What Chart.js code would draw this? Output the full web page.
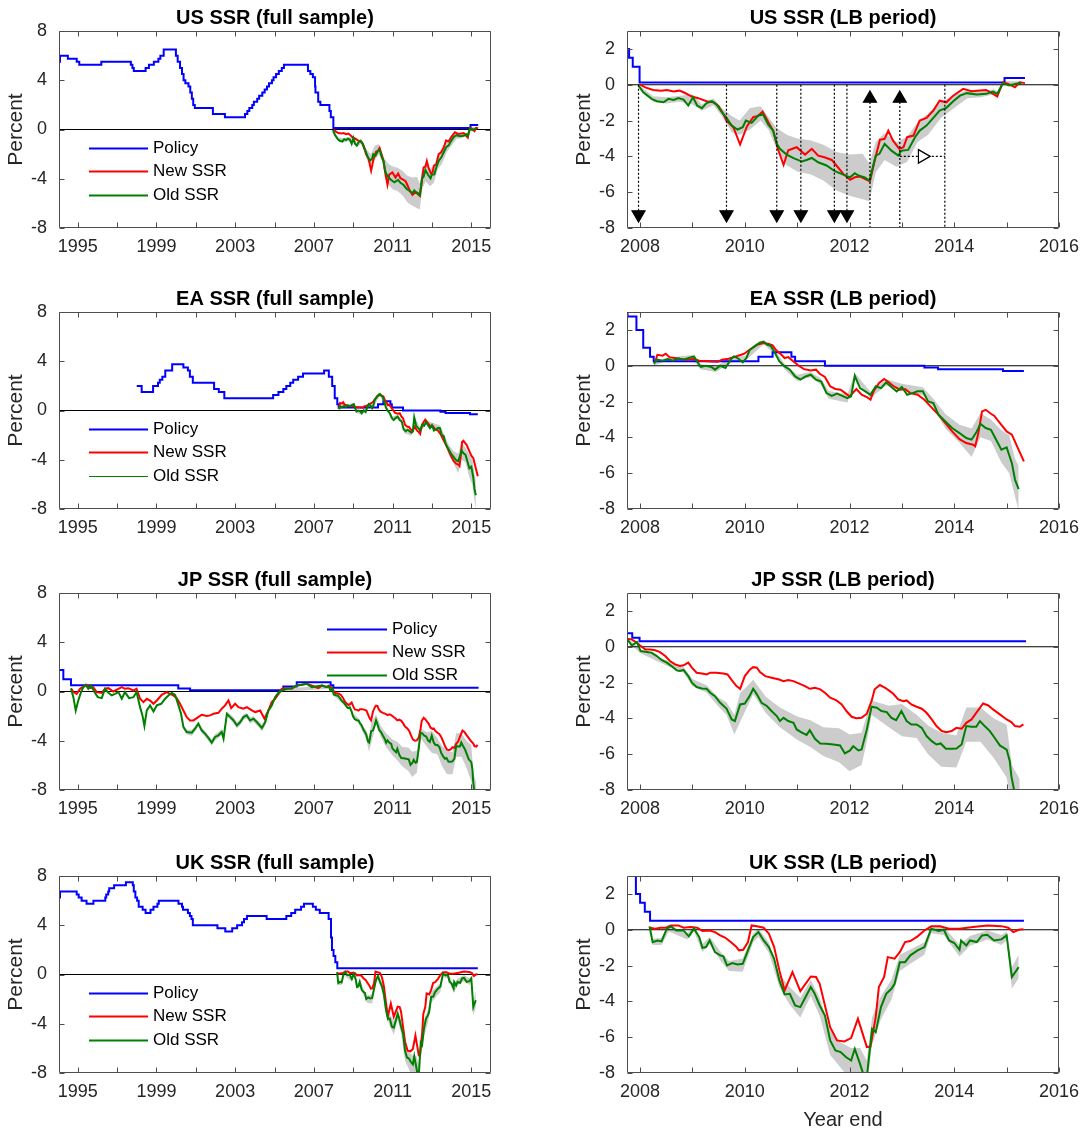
<!DOCTYPE html>
<html>
<head>
<meta charset="utf-8">
<script src="https://cdn.jsdelivr.net/npm/chart.js@4.4.1/dist/chart.umd.min.js"></script>
<style>
  body { margin: 0; background: #fff; width: 1088px; height: 1131px; overflow: hidden; position: relative; }
  canvas { position: absolute; }
</style>
</head>
<body>
<script>
///////////// DATA /////////////

// axis ticks
const fullTicks = [1995, 1997, 1999, 2001, 2003, 2005, 2007, 2009, 2011, 2013, 2015];
const fullLabels = [1995, 1999, 2003, 2007, 2011, 2015];
const lbTicks = [2008, 2009, 2010, 2011, 2012, 2013, 2014, 2015, 2016];
const lbLabels = [2008, 2010, 2012, 2014, 2016];
const fullYTicks = [-8, -4, 0, 4, 8];
const lbYTicks = [-8, -6, -4, -2, 0, 2];

// policy rates (step changes: date, rate)
const usPolicyX = [1994.05, 1994.1, 1994.5, 1994.95, 1995.08, 1996.2, 1997.7, 1997.78, 1997.85, 1998.45,
  1998.62, 1998.87, 1999.1, 1999.2, 1999.37, 1999.99, 2000.08, 2000.2, 2000.3, 2000.38,
  2000.47, 2000.63, 2000.72, 2000.8, 2000.87, 2000.95, 2001.87, 2002.48, 2003.5, 2003.62,
  2003.72, 2003.87, 2003.95, 2004.12, 2004.22, 2004.38, 2004.5, 2004.62, 2004.72, 2004.87,
  2004.95, 2005.08, 2005.22, 2005.37, 2005.48, 2006.7, 2006.82, 2006.95, 2007.06, 2007.08,
  2007.22, 2007.33, 2007.79, 2007.86, 2007.99, 2014.96, 2015.35];
const usPolicyY = [5.5, 6.0, 5.75, 5.5, 5.25, 5.5, 5.25, 5.0, 4.75, 5.0,
  5.25, 5.5, 5.75, 6.0, 6.5, 6.0, 5.5, 5.0, 4.5, 4.0,
  3.75, 3.5, 3.0, 2.5, 2.0, 1.75, 1.25, 1.0, 1.25, 1.5,
  1.75, 2.0, 2.25, 2.5, 2.75, 3.0, 3.25, 3.5, 3.75, 4.0,
  4.25, 4.5, 4.75, 5.0, 5.25, 4.75, 4.5, 4.25, 3.5, 3.0,
  2.25, 2.0, 1.5, 1.0, 0.125, 0.375, 0.375];

const eaPolicyX = [1998.0, 1998.25, 1998.83, 1999.08, 1999.17, 1999.3, 1999.45, 1999.8, 2000.37, 2000.6,
  2000.7, 2000.85, 2001.93, 2002.17, 2002.45, 2004.93, 2005.2, 2005.45, 2005.6, 2005.8,
  2005.95, 2006.2, 2006.45, 2007.52, 2007.76, 2007.93, 2008.06, 2008.19, 2008.26, 2010.26,
  2010.53, 2010.89, 2010.96, 2011.53, 2013.43, 2013.69, 2014.93, 2015.33];
const eaPolicyY = [2.0, 1.5, 2.0, 2.25, 2.5, 2.75, 3.25, 3.75, 3.5, 3.25,
  2.75, 2.25, 1.75, 1.5, 1.0, 1.25, 1.5, 1.75, 2.0, 2.25,
  2.5, 2.75, 3.0, 3.25, 2.75, 2.0, 1.0, 0.5, 0.25, 0.5,
  0.75, 0.5, 0.25, 0.0, -0.1, -0.2, -0.3, -0.3];

const jpPolicyX = [1994.05, 1994.27, 1994.66, 2000.11, 2000.71, 2005.45, 2006.13, 2007.85, 2007.99, 2015.37];
const jpPolicyY = [1.75, 1.0, 0.5, 0.25, 0.1, 0.4, 0.75, 0.5, 0.3, 0.3];

const ukPolicyX = [1994.05, 1994.1, 1994.95, 1995.05, 1995.2, 1995.45, 1995.8, 1996.4, 1996.45, 1996.55,
  1996.6, 1996.85, 1997.45, 1997.8, 1997.85, 1997.93, 1998.02, 1998.1, 1998.3, 1998.45,
  1998.7, 1998.85, 1999.05, 1999.12, 2000.12, 2000.3, 2000.35, 2000.6, 2000.7, 2000.78,
  2000.85, 2002.1, 2002.5, 2002.85, 2003.1, 2003.35, 2003.45, 2003.6, 2004.6, 2005.6,
  2005.85, 2006.05, 2006.35, 2006.5, 2006.95, 2007.1, 2007.3, 2007.75, 2007.87, 2007.92,
  2008.0, 2008.09, 2008.19, 2015.33];
const ukPolicyY = [6.25, 6.75, 6.5, 6.25, 6.0, 5.75, 6.0, 6.25, 6.5, 6.75,
  7.0, 7.25, 7.5, 7.25, 6.75, 6.25, 6.0, 5.5, 5.25, 5.0,
  5.25, 5.5, 5.75, 6.0, 5.75, 5.5, 5.25, 5.0, 4.75, 4.5,
  4.0, 3.75, 3.5, 3.75, 4.0, 4.25, 4.5, 4.75, 4.5, 4.75,
  5.0, 5.25, 5.5, 5.75, 5.5, 5.25, 5.0, 4.5, 3.0, 2.0,
  1.5, 1.0, 0.5, 0.5];

// shadow short rates [date, percent]
const usNew = [[2008.00,0.0],[2008.10,-0.15],[2008.25,-0.29],[2008.40,-0.33],[2008.51,-0.29],[2008.64,-0.38],[2008.75,-0.33],[2008.83,-0.42],[2008.99,-0.66],[2009.11,-0.75],
  [2009.27,-0.92],[2009.40,-0.98],[2009.50,-1.2],[2009.59,-1.63],[2009.65,-2.0],[2009.78,-2.37],[2009.91,-3.34],[2010.04,-2.33],[2010.16,-1.81],[2010.25,-1.75],
  [2010.34,-1.5],[2010.45,-2.1],[2010.54,-2.56],[2010.64,-3.66],[2010.74,-4.48],[2010.83,-3.66],[2010.99,-3.49],[2011.15,-3.9],[2011.28,-3.58],[2011.40,-3.96],
  [2011.52,-4.05],[2011.66,-4.2],[2011.75,-4.51],[2011.88,-4.98],[2012.01,-5.31],[2012.10,-5.17],[2012.20,-5.13],[2012.29,-5.26],[2012.39,-5.39],[2012.48,-4.23],
  [2012.58,-3.08],[2012.67,-3.02],[2012.74,-2.56],[2012.83,-3.12],[2012.95,-3.58],[2013.03,-3.49],[2013.10,-2.93],[2013.22,-2.84],[2013.34,-2.0],[2013.47,-1.85],
  [2013.60,-1.44],[2013.72,-0.89],[2013.85,-0.98],[2013.98,-0.61],[2014.17,-0.23],[2014.33,-0.36],[2014.49,-0.32],[2014.61,-0.29],[2014.74,-0.51],[2014.82,-0.66],
  [2014.93,0.14],[2015.03,0.05],[2015.16,-0.14],[2015.25,0.14],[2015.35,0.09]];
const usOld = [[2007.97,-0.05],[2008.06,-0.42],[2008.22,-0.79],[2008.32,-0.92],[2008.45,-0.98],[2008.54,-0.79],[2008.64,-0.85],[2008.73,-0.75],[2008.83,-0.83],[2008.92,-1.16],
  [2009.01,-0.70],[2009.09,-1.16],[2009.18,-1.31],[2009.27,-1.03],[2009.37,-0.92],[2009.46,-1.10],[2009.56,-1.53],[2009.65,-1.85],[2009.75,-2.28],[2009.86,-2.50],
  [2009.96,-2.37],[2010.02,-2.00],[2010.13,-2.13],[2010.26,-1.72],[2010.35,-1.66],[2010.45,-2.24],[2010.54,-2.56],[2010.61,-3.30],[2010.67,-3.58],[2010.80,-3.90],
  [2010.93,-4.10],[2011.09,-4.29],[2011.18,-4.20],[2011.28,-4.09],[2011.40,-4.33],[2011.56,-4.51],[2011.72,-4.83],[2011.88,-5.02],[2012.01,-5.17],[2012.10,-4.94],
  [2012.17,-5.07],[2012.29,-5.17],[2012.38,-5.35],[2012.50,-3.96],[2012.57,-3.86],[2012.67,-3.30],[2012.80,-3.68],[2012.93,-3.96],[2012.99,-3.68],[2013.12,-3.64],
  [2013.25,-2.93],[2013.34,-2.56],[2013.47,-2.28],[2013.60,-1.85],[2013.72,-1.44],[2013.85,-1.29],[2013.98,-0.92],[2014.11,-0.61],[2014.24,-0.47],[2014.43,-0.55],
  [2014.61,-0.51],[2014.74,-0.38],[2014.82,-0.51],[2014.93,0.09],[2015.05,-0.04],[2015.18,0.05],[2015.28,0.09]];
// confidence band [date, low, high]
const usBand = [[2007.97,-0.1,0.0],[2008.25,-0.95,-0.65],[2008.5,-1.05,-0.7],[2008.75,-0.95,-0.62],[2009.0,-1.1,-0.55],[2009.18,-1.45,-1.1],[2009.4,-1.15,-0.75],[2009.56,-1.75,-1.3],
  [2009.75,-2.65,-1.75],[2009.9,-2.8,-2.0],[2010.1,-2.5,-1.3],[2010.3,-2.0,-1.2],[2010.45,-2.5,-1.8],[2010.6,-3.5,-2.4],[2010.8,-4.5,-2.8],[2011.0,-4.85,-3.0],
  [2011.25,-5.0,-3.1],[2011.5,-5.35,-3.35],[2011.75,-5.9,-3.75],[2012.0,-6.2,-3.9],[2012.25,-6.4,-3.85],[2012.38,-6.5,-4.4],[2012.5,-4.9,-3.2],[2012.67,-4.2,-2.7],
  [2012.9,-4.6,-3.2],[2013.1,-4.3,-2.9],[2013.3,-3.2,-2.1],[2013.5,-2.8,-1.6],[2013.75,-1.85,-0.95],[2014.0,-1.3,-0.6],[2014.25,-0.75,-0.3],[2014.5,-0.7,-0.38],
  [2014.75,-0.55,-0.25],[2014.82,-0.65,-0.35],[2014.93,-0.05,0.2],[2015.28,0.0,0.2]];

const eaNew = [[2008.29,0.24],[2008.33,0.61],[2008.43,0.56],[2008.49,0.67],[2008.56,0.48],[2008.66,0.43],[2008.76,0.37],[2008.89,0.34],[2009.03,0.37],[2009.13,0.28],
  [2009.23,0.26],[2009.36,0.24],[2009.49,0.22],[2009.56,0.34],[2009.69,0.39],[2009.83,0.52],[2009.93,0.61],[2009.99,0.67],[2010.09,0.89],[2010.23,1.17],
  [2010.36,1.27],[2010.46,1.21],[2010.53,1.14],[2010.60,0.86],[2010.70,0.61],[2010.76,0.43],[2010.83,0.48],[2010.93,0.24],[2011.03,0.00],[2011.13,-0.19],
  [2011.26,-0.26],[2011.36,-0.22],[2011.43,-0.45],[2011.53,-0.63],[2011.63,-1.15],[2011.73,-1.30],[2011.83,-1.34],[2011.93,-1.56],[2012.00,-1.71],[2012.06,-1.53],
  [2012.13,-1.30],[2012.23,-1.62],[2012.33,-1.75],[2012.40,-1.90],[2012.46,-1.43],[2012.56,-0.97],[2012.66,-0.74],[2012.73,-0.88],[2012.83,-1.12],[2012.96,-1.34],
  [2013.06,-1.30],[2013.16,-1.53],[2013.30,-1.62],[2013.43,-1.90],[2013.56,-2.31],[2013.70,-2.74],[2013.83,-3.20],[2013.96,-3.67],[2014.10,-4.10],[2014.23,-4.32],
  [2014.36,-4.41],[2014.40,-4.50],[2014.46,-3.76],[2014.53,-2.55],[2014.60,-2.46],[2014.70,-2.68],[2014.76,-2.79],[2014.90,-3.30],[2015.00,-3.67],[2015.10,-3.85],
  [2015.20,-4.50],[2015.33,-5.34]];
const eaOld = [[2008.26,0.11],[2008.33,0.34],[2008.43,0.28],[2008.53,0.37],[2008.63,0.28],[2008.73,0.41],[2008.83,0.34],[2008.93,0.43],[2009.03,0.52],[2009.09,0.24],
  [2009.16,-0.07],[2009.26,0.00],[2009.36,-0.07],[2009.43,-0.22],[2009.53,0.00],[2009.63,-0.13],[2009.73,0.34],[2009.79,0.52],[2009.86,0.43],[2009.96,0.19],
  [2010.03,0.43],[2010.09,0.86],[2010.19,1.08],[2010.29,1.30],[2010.36,1.34],[2010.43,1.17],[2010.49,1.12],[2010.56,0.80],[2010.66,0.24],[2010.76,-0.04],
  [2010.86,-0.22],[2010.96,-0.60],[2011.06,-0.78],[2011.16,-0.60],[2011.26,-0.50],[2011.36,-0.78],[2011.46,-0.88],[2011.56,-1.53],[2011.66,-1.68],[2011.76,-1.56],
  [2011.86,-1.68],[2011.96,-1.81],[2012.03,-1.71],[2012.10,-0.56],[2012.20,-1.25],[2012.30,-1.43],[2012.40,-1.62],[2012.50,-1.15],[2012.60,-1.25],[2012.70,-0.93],
  [2012.80,-1.19],[2012.90,-1.43],[2013.00,-1.19],[2013.10,-1.62],[2013.20,-1.53],[2013.30,-1.43],[2013.40,-1.43],[2013.50,-1.99],[2013.60,-2.09],[2013.70,-2.74],
  [2013.83,-3.11],[2013.96,-3.48],[2014.10,-3.76],[2014.23,-4.04],[2014.33,-4.13],[2014.43,-3.67],[2014.50,-3.24],[2014.60,-3.48],[2014.70,-3.58],[2014.80,-4.13],
  [2014.90,-4.69],[2015.00,-4.56],[2015.10,-5.44],[2015.16,-6.37],[2015.23,-6.89]];
const eaBand = [[2008.26,0.0,0.2],[2008.5,0.25,0.45],[2009.0,0.35,0.6],[2009.15,-0.2,0.1],[2009.45,-0.35,-0.05],[2009.75,0.2,0.5],[2010.0,0.25,0.55],[2010.36,1.2,1.45],
  [2010.56,0.65,0.95],[2010.76,-0.2,0.1],[2011.0,-0.85,-0.5],[2011.25,-0.65,-0.35],[2011.45,-1.05,-0.7],[2011.6,-1.85,-1.4],[2011.96,-2.05,-1.6],[2012.1,-0.75,-0.4],
  [2012.4,-1.8,-1.45],[2012.7,-1.1,-0.75],[2013.0,-1.4,-1.0],[2013.4,-1.65,-1.2],[2013.6,-2.3,-1.85],[2013.83,-3.5,-2.7],[2014.1,-4.3,-3.3],[2014.33,-5.1,-3.5],
  [2014.5,-4.0,-2.65],[2014.7,-4.2,-3.0],[2014.9,-5.4,-3.6],[2015.05,-6.0,-3.9],[2015.16,-7.3,-5.2],[2015.23,-8.1,-5.6]];

const jpNew = [[1994.66,0.27],[1994.78,-0.05],[1994.95,-0.19],[1995.12,0.22],[1995.29,0.40],[1995.46,0.54],[1995.63,0.27],[1995.79,0.35],[1995.96,-0.05],[1996.22,-0.11],
  [1996.39,0.22],[1996.56,0.27],[1996.81,0.00],[1997.07,0.22],[1997.24,0.35],[1997.40,0.22],[1997.57,0.27],[1997.83,0.08],[1997.99,0.22],[1998.17,-0.59],
  [1998.34,-0.86],[1998.51,-0.59],[1998.68,-0.73],[1998.85,-1.00],[1999.02,-0.73],[1999.27,-0.27],[1999.52,-0.05],[1999.69,-0.19],[1999.86,-0.32],[2000.03,-0.54],
  [2000.20,-1.00],[2000.37,-1.54],[2000.54,-2.08],[2000.71,-2.35],[2000.88,-2.35],[2001.05,-2.16],[2001.30,-1.89],[2001.56,-1.99],[2001.73,-1.94],[2001.90,-1.81],
  [2002.15,-1.73],[2002.32,-1.40],[2002.49,-1.13],[2002.66,-0.73],[2002.80,-1.35],[2003.00,-1.00],[2003.17,-1.27],[2003.42,-1.40],[2003.59,-1.27],[2003.85,-1.54],
  [2004.02,-1.67],[2004.27,-1.54],[2004.49,-2.21],[2004.69,-1.54],[2004.86,-0.86],[2005.03,-0.59],[2005.20,-0.19],[2005.37,0.22],[2005.63,0.27],[2005.88,0.22],
  [2006.13,0.49],[2006.38,0.54],[2006.64,0.62],[2006.98,0.43],[2007.23,0.27],[2007.41,0.49],[2007.66,0.35],
  [2007.75,0.45],[2007.84,0.41],[2007.94,0.22],[2008.00,0.07],[2008.10,-0.15],[2008.19,-0.15],[2008.29,-0.20],[2008.38,-0.30],[2008.48,-0.52],[2008.57,-0.80],
  [2008.67,-0.99],[2008.76,-1.08],[2008.83,-1.04],[2008.92,-0.89],[2008.99,-1.17],[2009.08,-1.45],[2009.18,-1.49],[2009.27,-1.55],[2009.34,-1.45],[2009.46,-1.45],
  [2009.59,-1.49],[2009.67,-1.55],[2009.75,-1.86],[2009.84,-2.20],[2009.91,-2.35],[2010.00,-1.64],[2010.10,-1.27],[2010.16,-1.14],[2010.23,-1.17],[2010.29,-1.42],
  [2010.39,-1.64],[2010.51,-1.73],[2010.64,-1.82],[2010.74,-1.92],[2010.83,-1.86],[2010.93,-1.92],[2011.05,-2.07],[2011.15,-2.20],[2011.24,-2.35],[2011.34,-2.29],
  [2011.44,-2.38],[2011.53,-2.57],[2011.63,-2.85],[2011.75,-3.00],[2011.85,-3.22],[2011.94,-3.59],[2012.04,-3.91],[2012.13,-3.99],[2012.23,-3.97],[2012.33,-3.74],
  [2012.42,-3.04],[2012.48,-2.38],[2012.58,-2.14],[2012.68,-2.29],[2012.77,-2.48],[2012.83,-2.61],[2012.93,-2.94],[2013.03,-3.04],[2013.09,-3.00],[2013.18,-3.22],
  [2013.28,-3.35],[2013.38,-3.46],[2013.47,-3.69],[2013.57,-4.06],[2013.66,-4.43],[2013.76,-4.71],[2013.85,-4.77],[2013.95,-4.71],[2014.04,-4.53],[2014.14,-4.58],
  [2014.23,-4.25],[2014.33,-4.06],[2014.42,-3.69],[2014.55,-3.17],[2014.65,-3.28],[2014.74,-3.50],[2014.87,-3.78],[2015.00,-4.06],[2015.09,-4.21],[2015.16,-4.43],
  [2015.25,-4.47],[2015.32,-4.34]];
const jpOld = [[1994.66,0.22],[1994.78,-0.46],[1994.90,-1.54],[1995.03,-0.73],[1995.17,-0.05],[1995.29,0.35],[1995.41,0.54],[1995.54,0.22],[1995.68,0.49],[1995.85,-0.05],
  [1996.02,-0.46],[1996.22,-0.54],[1996.39,0.22],[1996.56,-0.11],[1996.73,-0.32],[1996.90,-0.19],[1997.07,-0.05],[1997.24,-0.59],[1997.40,-0.05],[1997.61,-0.54],
  [1997.83,-0.46],[1997.99,-0.05],[1998.17,-1.27],[1998.29,-1.94],[1998.39,-2.80],[1998.51,-1.54],[1998.68,-1.13],[1998.85,-1.62],[1999.02,-1.13],[1999.24,-1.00],
  [1999.44,-0.59],[1999.61,-0.32],[1999.78,-0.11],[1999.95,-0.27],[2000.12,-1.13],[2000.25,-1.81],[2000.37,-2.88],[2000.54,-3.29],[2000.80,-3.34],[2000.96,-3.02],
  [2001.13,-2.61],[2001.30,-3.15],[2001.47,-3.42],[2001.64,-3.77],[2001.81,-4.15],[2001.98,-3.69],[2002.15,-3.56],[2002.32,-3.29],[2002.41,-3.83],[2002.58,-1.81],
  [2002.75,-2.08],[2002.92,-2.35],[2003.09,-2.75],[2003.26,-2.48],[2003.42,-2.08],[2003.59,-1.94],[2003.76,-2.35],[2003.93,-2.21],[2004.10,-2.48],[2004.36,-2.96],
  [2004.53,-2.48],[2004.69,-1.54],[2004.86,-1.13],[2005.03,-0.46],[2005.20,-0.11],[2005.37,0.08],[2005.63,0.22],[2005.88,0.27],[2006.13,0.49],[2006.38,0.54],
  [2006.64,0.62],[2006.90,0.35],[2007.15,0.43],[2007.41,0.49],[2007.66,0.35],
  [2007.75,0.45],[2007.84,0.07],[2007.94,0.26],[2008.01,-0.24],[2008.13,-0.30],[2008.22,-0.34],[2008.32,-0.52],[2008.41,-0.74],[2008.51,-0.89],[2008.60,-1.08],
  [2008.70,-1.32],[2008.76,-1.36],[2008.83,-1.30],[2008.92,-1.64],[2008.99,-2.01],[2009.08,-2.25],[2009.18,-2.33],[2009.27,-2.35],[2009.34,-2.57],[2009.43,-2.76],
  [2009.53,-3.13],[2009.65,-3.45],[2009.75,-4.06],[2009.81,-4.15],[2009.91,-3.22],[2010.00,-3.17],[2010.09,-2.76],[2010.16,-2.35],[2010.23,-2.66],[2010.32,-3.13],
  [2010.42,-3.31],[2010.51,-3.59],[2010.61,-3.87],[2010.67,-4.15],[2010.74,-3.97],[2010.83,-4.15],[2010.93,-4.25],[2010.99,-4.62],[2011.09,-4.80],[2011.18,-4.93],
  [2011.24,-4.66],[2011.34,-5.14],[2011.44,-5.40],[2011.56,-5.42],[2011.69,-5.46],[2011.82,-5.51],[2011.91,-5.96],[2012.01,-5.79],[2012.07,-5.55],[2012.17,-5.79],
  [2012.23,-5.74],[2012.33,-4.62],[2012.42,-3.35],[2012.52,-3.41],[2012.61,-3.59],[2012.71,-3.65],[2012.80,-3.97],[2012.89,-4.10],[2012.99,-3.59],[2013.09,-4.15],
  [2013.18,-4.34],[2013.28,-4.34],[2013.38,-4.53],[2013.47,-4.99],[2013.57,-5.27],[2013.66,-5.46],[2013.74,-5.40],[2013.84,-5.70],[2013.95,-5.70],[2014.04,-5.68],
  [2014.14,-5.46],[2014.23,-4.43],[2014.33,-4.47],[2014.42,-4.47],[2014.49,-4.15],[2014.58,-4.43],[2014.68,-4.71],[2014.77,-5.08],[2014.87,-5.51],[2015.00,-5.74],
  [2015.06,-6.39],[2015.09,-7.23],[2015.14,-7.97],[2015.20,-10.0]];
const jpBand = [[2000.25,-2.0,-1.6],[2000.37,-3.1,-2.7],[2000.54,-3.5,-3.1],[2000.80,-3.6,-3.1],[2000.96,-3.25,-2.8],[2001.13,-2.85,-2.4],[2001.30,-3.4,-2.95],
  [2001.47,-3.65,-3.2],[2001.64,-4.0,-3.55],[2001.81,-4.4,-3.9],[2001.98,-3.95,-3.45],[2002.15,-3.8,-3.3],[2002.32,-3.55,-3.05],[2002.41,-4.1,-3.6],[2002.58,-2.05,-1.6],
  [2002.75,-2.3,-1.85],[2002.92,-2.6,-2.1],[2003.09,-3.0,-2.5],[2003.26,-2.75,-2.25],[2003.42,-2.3,-1.85],[2003.59,-2.2,-1.75],[2003.76,-2.6,-2.1],[2003.93,-2.45,-2.0],
  [2004.10,-2.75,-2.25],[2004.36,-3.25,-2.7],[2004.53,-2.75,-2.25],[2004.69,-1.75,-1.35],[2004.86,-1.35,-0.95],[2005.03,-0.65,-0.3],[2005.37,-0.05,0.2],[2007.66,0.2,0.5],
  [2007.75,0.3,0.55],[2008.0,-0.35,-0.15],[2008.5,-1.05,-0.75],[2008.83,-1.45,-1.15],[2009.0,-2.2,-1.8],[2009.27,-2.55,-2.15],[2009.5,-3.35,-2.85],[2009.65,-3.8,-3.1],
  [2009.8,-4.9,-3.8],[2009.91,-4.2,-2.6],[2010.16,-2.65,-1.85],[2010.4,-3.7,-2.8],[2010.67,-4.5,-3.4],[2011.0,-5.2,-3.9],[2011.25,-5.6,-4.1],[2011.5,-6.1,-4.5],
  [2011.8,-6.45,-4.55],[2012.0,-6.95,-4.9],[2012.23,-6.6,-4.8],[2012.33,-5.3,-3.8],[2012.42,-3.8,-3.0],[2012.75,-4.5,-3.3],[2013.0,-5.0,-3.2],[2013.28,-5.1,-3.8],
  [2013.5,-6.0,-4.4],[2013.75,-6.7,-4.8],[2014.04,-6.75,-4.95],[2014.23,-5.3,-3.4],[2014.5,-5.3,-3.4],[2014.75,-6.2,-4.0],[2015.0,-7.3,-4.35],[2015.1,-9.0,-6.6],
  [2015.25,-9.0,-7.4]];

const ukNew = [[2008.19,0.11],[2008.29,0.06],[2008.39,0.11],[2008.49,0.11],[2008.59,0.24],[2008.73,0.24],[2008.83,0.11],[2008.96,0.15],[2009.09,0.11],[2009.19,-0.07],
  [2009.33,-0.04],[2009.43,-0.13],[2009.53,-0.32],[2009.63,-0.45],[2009.73,-0.69],[2009.83,-0.93],[2009.89,-1.15],[2009.97,-1.12],[2010.06,-0.69],[2010.13,0.24],
  [2010.23,0.19],[2010.36,0.11],[2010.46,-0.22],[2010.56,-0.97],[2010.66,-2.27],[2010.76,-3.39],[2010.91,-2.36],[2011.06,-3.43],[2011.26,-2.61],[2011.36,-2.64],
  [2011.43,-3.02],[2011.53,-4.23],[2011.63,-5.44],[2011.76,-6.18],[2011.90,-6.24],[2012.03,-6.05],[2012.16,-4.97],[2012.23,-5.62],[2012.33,-6.55],[2012.40,-6.52],
  [2012.50,-4.88],[2012.56,-3.20],[2012.66,-2.64],[2012.73,-1.53],[2012.86,-1.62],[2012.96,-1.25],[2013.06,-0.69],[2013.16,-0.63],[2013.30,-0.37],[2013.43,-0.04],
  [2013.56,0.19],[2013.73,0.19],[2013.90,0.06],[2014.10,0.06],[2014.36,0.15],[2014.63,0.24],[2014.90,0.20],[2015.03,0.11],[2015.13,-0.13],[2015.23,0.00],
  [2015.32,0.02]];
const ukOld = [[2008.18,0.19],[2008.24,-0.69],[2008.33,-0.60],[2008.41,-0.65],[2008.51,0.06],[2008.59,0.19],[2008.69,-0.04],[2008.83,-0.04],[2008.93,-0.37],[2009.03,0.06],
  [2009.13,-0.41],[2009.19,-1.01],[2009.26,-0.97],[2009.33,-0.60],[2009.43,-1.25],[2009.53,-1.43],[2009.59,-1.49],[2009.66,-1.99],[2009.76,-1.86],[2009.86,-1.94],
  [2009.96,-1.90],[2010.06,-1.15],[2010.16,-0.41],[2010.26,-0.13],[2010.36,-0.60],[2010.46,-0.97],[2010.56,-1.62],[2010.66,-2.83],[2010.76,-3.61],[2010.86,-3.58],
  [2010.96,-4.23],[2011.06,-4.32],[2011.16,-3.76],[2011.26,-3.20],[2011.33,-3.54],[2011.43,-4.23],[2011.53,-4.79],[2011.63,-6.18],[2011.73,-6.74],[2011.83,-6.83],
  [2011.93,-7.11],[2012.03,-7.30],[2012.10,-6.65],[2012.20,-7.49],[2012.26,-8.04],[2012.33,-8.23],[2012.43,-5.53],[2012.50,-5.72],[2012.60,-4.32],[2012.70,-3.58],
  [2012.80,-3.30],[2012.86,-3.02],[2012.96,-1.81],[2013.06,-1.81],[2013.16,-1.43],[2013.30,-1.15],[2013.43,-0.97],[2013.56,0.06],[2013.70,-0.07],[2013.80,0.00],
  [2013.90,-0.60],[2014.00,-0.74],[2014.10,-1.12],[2014.13,-0.60],[2014.23,-0.88],[2014.30,-0.60],[2014.43,-0.69],[2014.53,-0.32],[2014.63,-0.28],[2014.76,-0.60],
  [2014.90,-0.54],[2015.00,-0.32],[2015.10,-2.64],[2015.23,-2.09]];
const ukBand = [[2008.18,0.05,0.3],[2008.24,-0.85,-0.5],[2008.41,-0.85,-0.45],[2008.55,-0.1,0.25],[2008.9,-0.55,-0.2],[2009.03,-0.1,0.2],[2009.19,-1.25,-0.8],
  [2009.33,-0.8,-0.4],[2009.53,-1.7,-1.2],[2009.7,-2.3,-1.75],[2009.96,-2.35,-1.6],[2010.16,-0.7,-0.2],[2010.26,-0.4,0.05],[2010.46,-1.3,-0.7],[2010.66,-3.2,-2.5],
  [2010.86,-4.2,-3.2],[2011.06,-4.9,-3.8],[2011.26,-3.7,-2.8],[2011.43,-4.8,-3.8],[2011.63,-7.0,-5.6],[2011.83,-7.7,-6.3],[2012.03,-8.4,-6.6],[2012.2,-8.6,-6.6],
  [2012.33,-8.9,-7.3],[2012.43,-6.4,-4.9],[2012.6,-5.0,-3.7],[2012.8,-3.9,-2.8],[2012.96,-2.3,-1.4],[2013.16,-1.9,-1.1],[2013.43,-1.4,-0.7],[2013.56,-0.2,0.2],
  [2013.8,-0.3,0.15],[2014.0,-1.1,-0.5],[2014.1,-1.5,-0.85],[2014.3,-0.9,-0.35],[2014.63,-0.55,-0.05],[2014.9,-0.85,-0.3],[2015.0,-0.6,-0.1],[2015.1,-3.3,-2.1],
  [2015.23,-2.7,-1.4]];

// US policy events in the LB panel
const usDownDates = [2007.97, 2009.65, 2010.61, 2011.07, 2011.71, 2011.95];
const usUpDates = [2012.39, 2012.96];
const usExitDate = 2013.82;
const usHorizonMark = 2013.39;


///////////// CHART SETUP /////////////

Chart.defaults.font.family = '"Liberation Sans", Arial, Helvetica, sans-serif';
Chart.defaults.font.size = 18;
Chart.defaults.color = '#262626';

const BLUE = '#0000ff', RED = '#ff0000', GREEN = '#008000', GREY = '#cccccc';

const toPts = arr => arr.map(p => ({ x: p[0], y: p[1] }));

function lineSet(label, data, color, width) {
  return { label, data, borderColor: color, backgroundColor: color, borderWidth: width,
           pointRadius: 0, fill: false, tension: 0 };
}

// box round the axes with inward ticks on every side
const axesBox = {
  id: 'axesBox',
  afterDraw(chart) {
    const { ctx, chartArea: a } = chart;
    const xs = chart.scales.x, ys = chart.scales.y;
    const L = Math.round(a.left) + 0.5, R = Math.round(a.right) - 0.5;
    const T = Math.round(a.top) + 0.5, B = Math.round(a.bottom) - 0.5;
    ctx.save();
    ctx.strokeStyle = '#4d4d4d';
    ctx.lineWidth = 1;
    ctx.beginPath();
    xs.ticks.forEach(t => {
      const p = Math.round(xs.getPixelForValue(t.value)) + 0.5;
      ctx.moveTo(p, B); ctx.lineTo(p, B - 5);
      ctx.moveTo(p, T); ctx.lineTo(p, T + 5);
    });
    ys.ticks.forEach(t => {
      const p = Math.round(ys.getPixelForValue(t.value)) + 0.5;
      ctx.moveTo(L, p); ctx.lineTo(L + 5, p);
      ctx.moveTo(R, p); ctx.lineTo(R - 5, p);
    });
    ctx.rect(L, T, R - L, B - T);
    ctx.stroke();
    ctx.restore();
  }
};

// boxless legend drawn inside the axes
function insideLegend(items, pos) {
  return {
    id: 'insideLegend',
    afterDraw(chart) {
      const { ctx, chartArea: a } = chart;
      ctx.save();
      ctx.font = '17px "Liberation Sans", Arial, sans-serif';
      ctx.textBaseline = 'middle';
      ctx.fillStyle = '#000';
      items.forEach((it, i) => {
        const y = Math.round(a.top + pos.top + i * pos.gap) + 0.5;
        const x0 = a.left + pos.left;
        ctx.strokeStyle = it.color;
        ctx.lineWidth = it.width;
        ctx.beginPath(); ctx.moveTo(x0, y); ctx.lineTo(x0 + pos.len, y); ctx.stroke();
        ctx.fillText(it.text, x0 + pos.len + 5, y);
      });
      ctx.restore();
    }
  };
}

function usEventSets() {
  const downY = -7.25, upY = -0.77, sideY = -4;
  const guide = [];
  usDownDates.forEach(x => guide.push({ x, y: 0 }, { x, y: downY }, { x, y: null }));
  usUpDates.forEach(x => guide.push({ x, y: -8 }, { x, y: upY }, { x, y: null }));
  guide.push({ x: usExitDate, y: 0 }, { x: usExitDate, y: -8 }, { x: usExitDate, y: null });
  guide.push({ x: usUpDates[1], y: sideY }, { x: usExitDate, y: sideY });
  const marker = (data, rot, fillCol, r) => ({
    data, showLine: false, pointStyle: 'triangle', pointRotation: rot, pointRadius: r,
    pointBackgroundColor: fillCol, pointBorderColor: '#000', pointBorderWidth: 1.2
  });
  return [
    marker(usDownDates.map(x => ({ x, y: downY })), 180, '#000', 7.5),
    marker(usUpDates.map(x => ({ x, y: upY })), 0, '#000', 7.5),
    marker([{ x: usHorizonMark, y: sideY }], 90, '#fff', 7.8),
    { data: guide, borderColor: '#000', borderWidth: 1.2, borderDash: [2, 2], pointRadius: 0, spanGaps: false }
  ];
}

function panel(o) {
  const axisH = o.xTitle ? 60 : 45;
  const cv = document.createElement('canvas');
  cv.width = 59 + 432 + o.padRight;
  cv.height = 31 + 197 + axisH;
  cv.style.left = o.left + 'px';
  cv.style.top = o.top + 'px';
  document.body.appendChild(cv);

  const datasets = (o.extra || []).concat([
    lineSet('Old SSR', toPts(o.oldS), GREEN, 2),
    lineSet('New SSR', toPts(o.newS), RED, 2),
    Object.assign(lineSet('Policy', o.policyX.map((x, i) => ({ x, y: o.policyY[i] })), BLUE, 2), { stepped: true }),
    lineSet('zero', [{ x: o.xmin, y: 0 }, { x: o.xmax, y: 0 }], '#000', 1.2),
    { label: 'bandLo', data: o.band.map(b => ({ x: b[0], y: b[1] })), borderWidth: 0, borderColor: 'rgba(0,0,0,0)', pointRadius: 0, fill: false },
    { label: 'bandHi', data: o.band.map(b => ({ x: b[0], y: b[2] })), borderWidth: 0, borderColor: 'rgba(0,0,0,0)', pointRadius: 0, fill: '-1', backgroundColor: GREY }
  ]);

  const plugins = [axesBox];
  if (o.legend) {
    plugins.push(insideLegend([
      { text: 'Policy', color: BLUE, width: 2 },
      { text: 'New SSR', color: RED, width: 2 },
      { text: 'Old SSR', color: GREEN, width: o.thinOld ? 1 : 2 }
    ], o.legend));
  }

  new Chart(cv, {
    type: 'line',
    data: { datasets },
    options: {
      responsive: false,
      animation: false,
      events: [],
      layout: { autoPadding: false, padding: { left: 0, right: o.padRight, top: 0, bottom: 0 } },
      plugins: {
        legend: { display: false },
        tooltip: { enabled: false },
        title: { display: true, text: o.title, fullSize: false, color: '#000',
                 font: { size: 20, weight: 'bold' }, padding: { top: 6, bottom: 1 } }
      },
      scales: {
        x: {
          type: 'linear', min: o.xmin, max: o.xmax,
          grid: { display: false, drawTicks: false }, border: { display: false },
          afterBuildTicks: s => { s.ticks = o.xticks.map(v => ({ value: v })); },
          afterFit: s => { s.height = axisH; },
          ticks: { autoSkip: false, maxRotation: 0, minRotation: 0, padding: 8,
                   callback: v => o.xlabels.includes(v) ? String(v) : '' },
          title: o.xTitle ? { display: true, text: o.xTitle, font: { size: 20 }, padding: { top: 0, bottom: 1 } }
                          : { display: false }
        },
        y: {
          min: o.ymin, max: o.ymax,
          grid: { display: false, drawTicks: false }, border: { display: false },
          afterBuildTicks: s => { s.ticks = o.yticks.map(v => ({ value: v })); },
          afterFit: s => { s.width = 59; },
          ticks: { padding: 12, callback: v => String(v) },
          title: { display: true, text: 'Percent', font: { size: 21 }, padding: { top: 4, bottom: 0 } }
        }
      }
    },
    plugins
  });
}

const rowTop = [0, 281, 562, 845];
const fullAxes = { left: 0, padRight: 30, xmin: 1994.05, xmax: 2016, xticks: fullTicks, xlabels: fullLabels, ymin: -8, ymax: 8, yticks: fullYTicks };
const lbAxes = { left: 568, padRight: 29, xmin: 2007.75, xmax: 2016, xticks: lbTicks, xlabels: lbLabels, ymin: -8, ymax: 3, yticks: lbYTicks };
const legendLow = { left: 30, top: 117, gap: 23.3, len: 59 };
const legendHigh = { left: 268, top: 36, gap: 23, len: 60 };

const us = { policyX: usPolicyX, policyY: usPolicyY, newS: usNew, oldS: usOld, band: usBand };
const ea = { policyX: eaPolicyX, policyY: eaPolicyY, newS: eaNew, oldS: eaOld, band: eaBand };
const jp = { policyX: jpPolicyX, policyY: jpPolicyY, newS: jpNew, oldS: jpOld, band: jpBand };
const uk = { policyX: ukPolicyX, policyY: ukPolicyY, newS: ukNew, oldS: ukOld, band: ukBand };

panel({ ...fullAxes, ...us, top: rowTop[0], title: 'US SSR (full sample)', legend: legendLow });
panel({ ...lbAxes, ...us, top: rowTop[0], title: 'US SSR (LB period)', extra: usEventSets() });
panel({ ...fullAxes, ...ea, top: rowTop[1], title: 'EA SSR (full sample)', legend: legendLow, thinOld: true });
panel({ ...lbAxes, ...ea, top: rowTop[1], title: 'EA SSR (LB period)' });
panel({ ...fullAxes, ...jp, top: rowTop[2], title: 'JP SSR (full sample)', legend: legendHigh });
panel({ ...lbAxes, ...jp, top: rowTop[2], title: 'JP SSR (LB period)' });
panel({ ...fullAxes, ...uk, top: rowTop[3], title: 'UK SSR (full sample)', legend: legendLow });
panel({ ...lbAxes, ...uk, top: rowTop[3], title: 'UK SSR (LB period)', xTitle: 'Year end' });
</script>
</body>
</html>
